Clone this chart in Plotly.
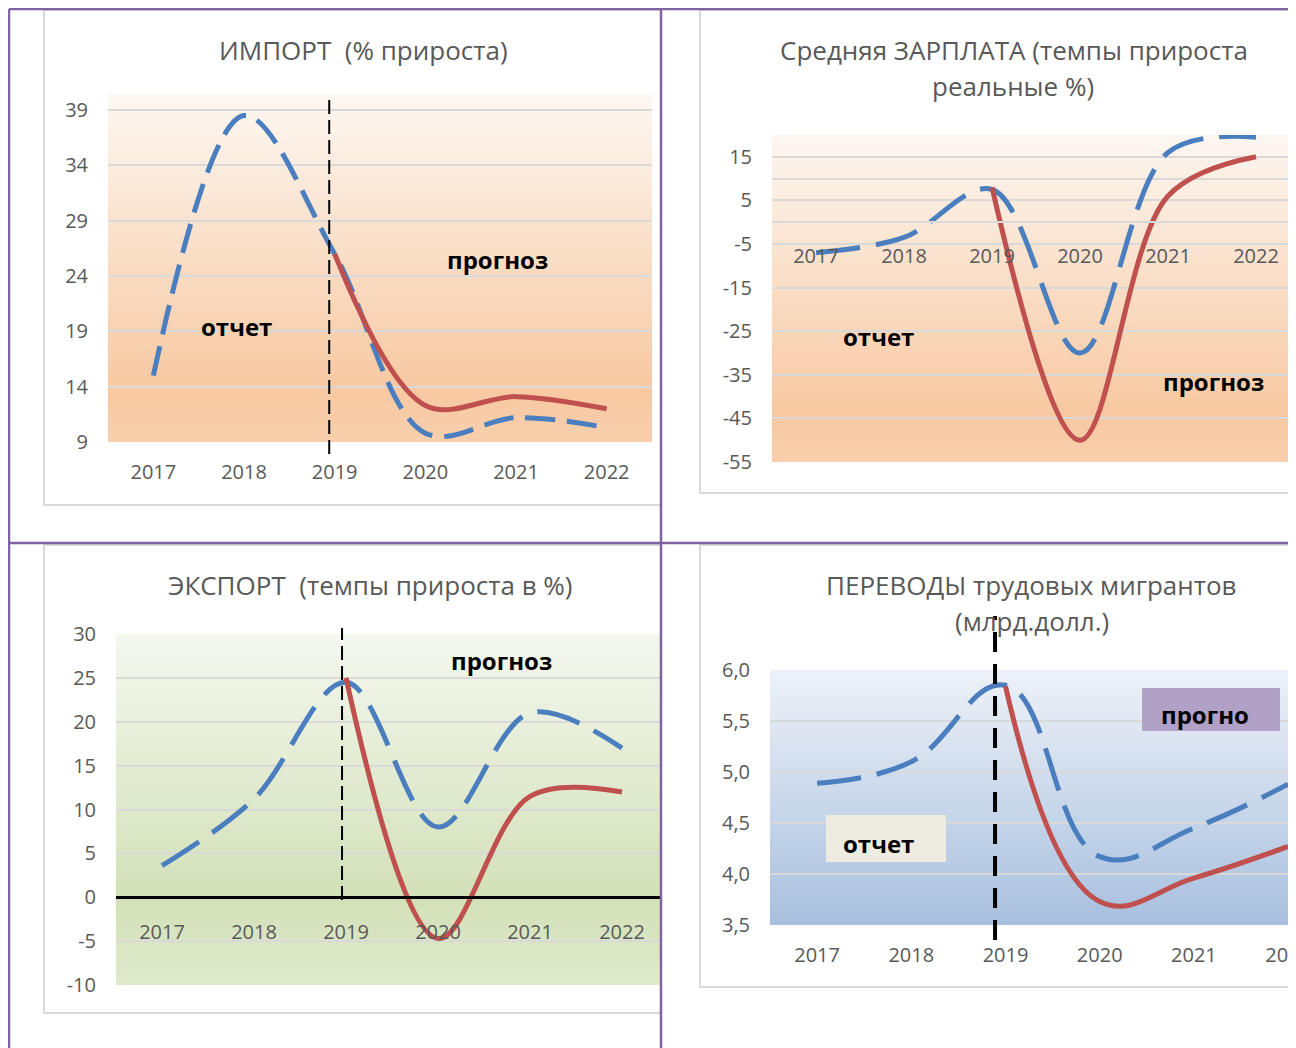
import plotly.graph_objects as go

# page offset (browser body margin) compensation
OX, OY = 8, 8
W, H = 1288, 1040


def fx(x):
    return (x - OX) / W


def fy(y):
    return 1 - (y - OY) / H


# ---------------- data ----------------
years = ["2017", "2018", "2019", "2020", "2021", "2022"]

import_fact = [15.0, 38.5, 26.0, 9.8, 11.2, 10.3]
import_forecast = [None, None, 26.0, 12.3, 13.1, 12.0]
import_ticks = [9, 14, 19, 24, 29, 34, 39]

wage_fact = [-7.0, -3.5, 7.5, -30.0, 16.0, 19.5]
wage_forecast = [None, None, 8.0, -50.0, 6.0, 15.0]
wage_ticks = [-55, -45, -35, -25, -15, -5, 5, 15]

export_fact = [3.6, 11.2, 24.5, 8.0, 21.0, 17.0]
export_forecast = [None, None, 25.0, -4.7, 11.5, 12.0]
export_ticks = [-10, -5, 0, 5, 10, 15, 20, 25, 30]

remit_fact = [4.89, 5.10, 5.85, 4.17, 4.45, 4.88]
remit_forecast = [None, None, 5.84, 3.73, 3.96, 4.27]
remit_ticks = [3.5, 4.0, 4.5, 5.0, 5.5, 6.0]

# ---------------- styles ----------------
FONT = "'Open Sans', 'Noto Sans', sans-serif"
TICK_COLOR = "#595959"
GRID = "#d9d9d9"
BLUE = "#4a7ebf"
RED = "#c0504d"
PURPLE = "#8064a2"

fig = go.Figure()


def add_pair(xa, ya, fact, fc, dash, sm=1.0):
    fig.add_trace(go.Scatter(x=years, y=fact, xaxis=xa, yaxis=ya, mode="lines",
                             line=dict(color=BLUE, width=5, dash=dash, shape="spline", smoothing=sm),
                             hoverinfo="skip"))
    fig.add_trace(go.Scatter(x=years, y=fc, xaxis=xa, yaxis=ya, mode="lines",
                             line=dict(color=RED, width=5, shape="spline", smoothing=sm),
                             connectgaps=False, hoverinfo="skip"))


add_pair("x", "y", import_fact, import_forecast, "30px,12px")
add_pair("x2", "y2", wage_fact, wage_forecast, "44px,16px")
add_pair("x3", "y3", export_fact, export_forecast, "44px,16px")
add_pair("x4", "y4", remit_fact, remit_forecast, "44px,16px", 1.2)

tickfont = dict(family=FONT, size=20, color=TICK_COLOR)


def xax(dom, rng, **kw):
    d = dict(domain=dom, range=rng, type="category", showgrid=False, zeroline=False,
             tickfont=tickfont, ticks="", ticklabelstandoff=16, fixedrange=True,
             automargin=False, showline=False)
    d.update(kw)
    return d


def yax(dom, rng, tv, tt, **kw):
    d = dict(domain=dom, range=rng, tickvals=tv, ticktext=tt, showgrid=True,
             gridcolor=GRID, gridwidth=2, zeroline=False, showline=False,
             tickfont=tickfont, ticks="", ticklabelstandoff=19, fixedrange=True,
             automargin=False)
    d.update(kw)
    return d


def fmt_int(v):
    return str(v)


def fmt_dec(v):
    return f"{v:.1f}".replace(".", ",")


# panel geometry (reference pixels)
p1 = dict(x0=108, x1=652, y0=94, y1=442)
p2 = dict(x0=772, x1=1296, y0=135, y1=462)
p3 = dict(x0=116, x1=660, y0=634, y1=985)
p4 = dict(x0=770, x1=1296, y0=670, y1=925)

fig.update_layout(
    xaxis=xax([fx(p1["x0"]), fx(p1["x1"])], [-0.5, 5.5], anchor="y"),
    yaxis=yax([fy(p1["y1"]), fy(p1["y0"])], [9, 40.45], import_ticks,
              [fmt_int(v) for v in import_ticks], anchor="x"),
    xaxis2=xax([fx(p2["x0"]), 1.0], [-0.5, -0.5 + (p2["x1"] - p2["x0"]) / 88.0],
               anchor="free", position=fy(222.2), showline=True, linecolor=GRID, linewidth=2),
    yaxis2=yax([fy(p2["y1"]), fy(p2["y0"])], [-55, 20], wage_ticks,
               [fmt_int(v) for v in wage_ticks], anchor="x2",
               minor=dict(tickvals=[10, 20], showgrid=True, gridcolor=GRID, gridwidth=2, ticks="")),
    xaxis3=xax([fx(p3["x0"]), fx(p3["x1"])], [-0.5, -0.5 + (p3["x1"] - p3["x0"]) / 92.0],
               anchor="free", position=fy(897), showline=True, linecolor="#000000", linewidth=3),
    yaxis3=yax([fy(p3["y1"]), fy(p3["y0"])], [-10, 30], export_ticks,
               [fmt_int(v) for v in export_ticks], anchor="x3"),
    xaxis4=xax([fx(p4["x0"]), 1.0], [-0.5, -0.5 + (p4["x1"] - p4["x0"]) / 94.2], anchor="y4"),
    yaxis4=yax([fy(p4["y1"]), fy(p4["y0"])], [3.5, 6.0], remit_ticks,
               [fmt_dec(v) for v in remit_ticks], anchor="x4"),
)

shapes = []


def hex2rgb(h):
    h = h.lstrip("#")
    return tuple(int(h[i:i + 2], 16) for i in (0, 2, 4))


def color_at(stops, t):
    for (t0, c0), (t1, c1) in zip(stops[:-1], stops[1:]):
        if t0 <= t <= t1:
            a = (t - t0) / (t1 - t0) if t1 > t0 else 0
            r0, g0, b0 = hex2rgb(c0)
            r1, g1, b1 = hex2rgb(c1)
            return "rgb(%d,%d,%d)" % (r0 + (r1 - r0) * a, g0 + (g1 - g0) * a, b0 + (b1 - b0) * a)
    return stops[-1][1]


def gradient(p, stops, n=70):
    h = p["y1"] - p["y0"]
    for i in range(n):
        t0, t1 = i / n, (i + 1) / n
        ya = p["y0"] + t0 * h
        yb = min(p["y0"] + t1 * h + 0.8, p["y1"])
        shapes.append(dict(type="rect", xref="paper", yref="paper", layer="below",
                           x0=fx(p["x0"]), x1=fx(p["x1"]), y0=fy(yb), y1=fy(ya),
                           line=dict(width=0), fillcolor=color_at(stops, (t0 + t1) / 2)))


# chart boxes
for bx in [(44, 10, 661, 505), (700, 10, 1290, 493), (44, 545, 661, 1013), (700, 545, 1290, 987)]:
    shapes.append(dict(type="rect", xref="paper", yref="paper", layer="below",
                       x0=fx(bx[0]), x1=fx(bx[2]), y0=fy(bx[3]), y1=fy(bx[1]),
                       line=dict(color="#d9d9d9", width=2), fillcolor="white"))

gradient(p1, [(0.0, "#fdf8f3"), (0.85, "#f8c9a2"), (1.0, "#f9cfad")])
gradient(p2, [(0.0, "#fdf7f1"), (0.85, "#f8c9a2"), (1.0, "#f9cfad")])
gradient(p3, [(0.0, "#f5f8ef"), (0.75, "#d3e1b9"), (1.0, "#e0eacd")])
gradient(p4, [(0.0, "#eef2f8"), (1.0, "#a8c0df")])

# vertical dashed separators (report / forecast)
shapes.append(dict(type="line", xref="x", yref="paper", x0=1.94, x1=1.94, y0=fy(454), y1=fy(97),
                   line=dict(color="black", width=2, dash="14px,6px"), layer="above"))
shapes.append(dict(type="line", xref="x3", yref="paper", x0=1.957, x1=1.957, y0=fy(900), y1=fy(628),
                   line=dict(color="black", width=2, dash="14px,6px"), layer="above"))
shapes.append(dict(type="line", xref="x4", yref="paper", x0=1.889, x1=1.889, y0=fy(940), y1=fy(616),
                   line=dict(color="black", width=4, dash="20px,12px"), layer="above"))

# label boxes in panel 4
shapes.append(dict(type="rect", xref="paper", yref="paper", layer="above",
                   x0=fx(1142), x1=fx(1280), y0=fy(731), y1=fy(688),
                   line=dict(width=0), fillcolor="#b2a1c7"))
shapes.append(dict(type="rect", xref="paper", yref="paper", layer="above",
                   x0=fx(826), x1=fx(946), y0=fy(862), y1=fy(815),
                   line=dict(width=0), fillcolor="#eeece1"))

# white margin right of the frame
shapes.append(dict(type="rect", xref="paper", yref="paper", layer="above",
                   x0=fx(1291.5), x1=1.0, y0=0, y1=1, line=dict(width=0), fillcolor="white"))

# purple frame
pl = dict(color=PURPLE, width=2.5)
for (xa, ya, xb, yb) in [(9, 9, 9, 1048), (9, 9, 1290, 9), (1290, 9, 1290, 1048),
                         (661, 9, 661, 1048), (9, 543, 1290, 543)]:
    shapes.append(dict(type="line", xref="paper", yref="paper", layer="above",
                       x0=fx(xa), x1=fx(xb), y0=fy(ya), y1=fy(yb), line=pl))

annotations = []


def text(x, y, s, size=26, color=TICK_COLOR, bold=False):
    annotations.append(dict(xref="paper", yref="paper", x=fx(x), y=fy(y),
                            text=("<b>%s</b>" % s) if bold else s,
                            showarrow=False, xanchor="center", yanchor="middle",
                            font=dict(family=FONT, size=size, color=color)))


text(363, 50, "ИМПОРТ&nbsp;&nbsp;(% прироста)")
text(1014, 50, "Средняя ЗАРПЛАТА (темпы прироста")
text(1013, 86, "реальные %)")
text(370, 585, "ЭКСПОРТ&nbsp;&nbsp;(темпы прироста в %)")
text(1032, 585, "ПЕРЕВОДЫ трудовых мигрантов")
text(1032, 621, "(млрд.долл.)")

text(236, 326, "отчет", 24, "black", True)
text(497, 259, "прогноз", 24, "black", True)
text(878, 336, "отчет", 24, "black", True)
text(1213, 381, "прогноз", 24, "black", True)
text(502, 660, "прогноз", 24, "black", True)
text(1205, 714, "прогно", 24, "black", True)
text(878, 843, "отчет", 24, "black", True)

fig.update_layout(
    template="none",
    width=W, height=H,
    margin=dict(l=0, r=0, t=0, b=0),
    paper_bgcolor="white",
    plot_bgcolor="rgba(0,0,0,0)",
    showlegend=False,
    shapes=shapes,
    annotations=annotations,
    font=dict(family=FONT),
)

fig.write_html("out.html")
